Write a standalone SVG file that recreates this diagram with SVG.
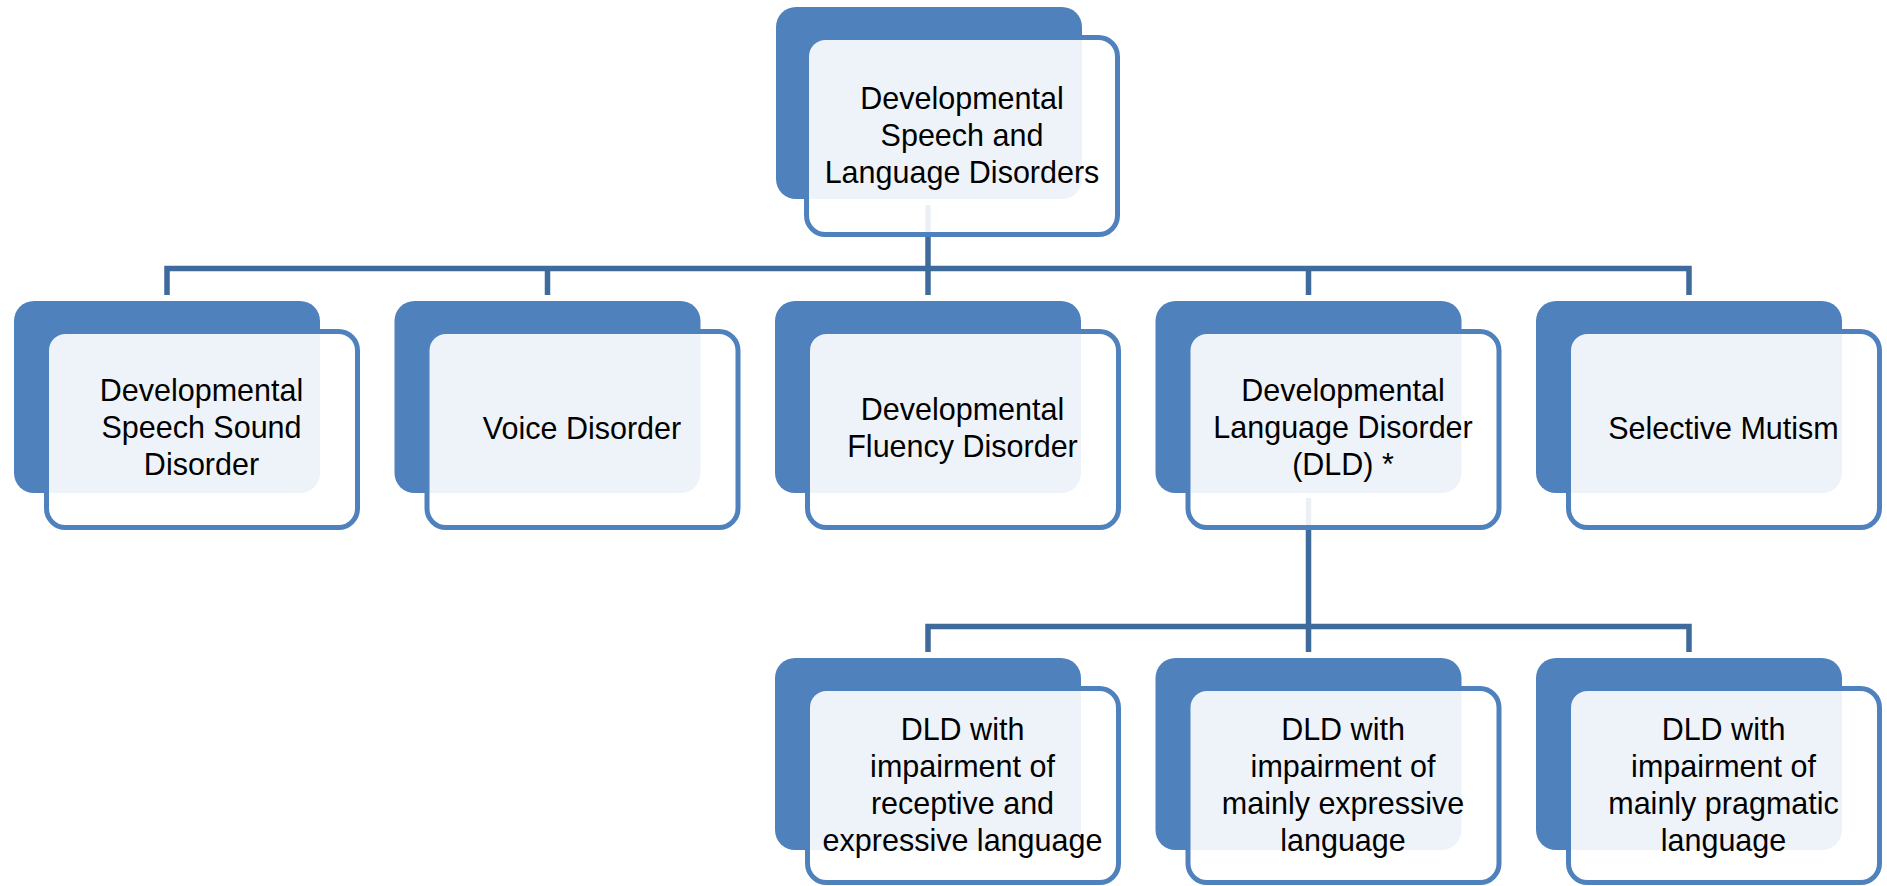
<svg xmlns="http://www.w3.org/2000/svg" width="1887" height="886" viewBox="0 0 1887 886">
<style>
.back{fill:#4F81BD;}
.front{fill:#FFFFFF;fill-opacity:0.9;stroke:#4F81BD;stroke-width:5;}
.lbl{font-family:"Liberation Sans",Arial,sans-serif;font-size:30.5px;fill:#000000;text-anchor:middle;}
.conn{fill:none;stroke:#3F6A9C;stroke-width:5.5;stroke-linejoin:miter;stroke-linecap:butt;}
</style>
<rect width="1887" height="886" fill="#FFFFFF"/>
<g id="connectors">
<path class="conn" d="M928 205 V295"/>
<path class="conn" d="M167 295 V268.5 H1689 V295"/>
<path class="conn" d="M547.5 268.5 V295"/>
<path class="conn" d="M1308.5 268.5 V295"/>
<path class="conn" d="M1308.5 498 V652"/>
<path class="conn" d="M928 652 V626.5 H1689 V652"/>
</g>
<g id="node-root">
<rect class="back" x="776" y="7" width="306" height="192" rx="20"/>
<rect class="front" x="806.5" y="37.5" width="311" height="197" rx="19"/>
<text class="lbl" x="962" y="108.5">Developmental</text>
<text class="lbl" x="962" y="145.5">Speech and</text>
<text class="lbl" x="962" y="182.5">Language Disorders</text>
</g>
<g id="node-speech-sound">
<rect class="back" x="14" y="301" width="306" height="192" rx="20"/>
<rect class="front" x="46.5" y="331.5" width="311" height="196" rx="19"/>
<text class="lbl" x="201.5" y="401">Developmental</text>
<text class="lbl" x="201.5" y="438">Speech Sound</text>
<text class="lbl" x="201.5" y="475">Disorder</text>
</g>
<g id="node-voice">
<rect class="back" x="394.5" y="301" width="306" height="192" rx="20"/>
<rect class="front" x="427" y="331.5" width="311" height="196" rx="19"/>
<text class="lbl" x="582" y="438.5">Voice Disorder</text>
</g>
<g id="node-fluency">
<rect class="back" x="775" y="301" width="306" height="192" rx="20"/>
<rect class="front" x="807.5" y="331.5" width="311" height="196" rx="19"/>
<text class="lbl" x="962.5" y="419.5">Developmental</text>
<text class="lbl" x="962.5" y="456.5">Fluency Disorder</text>
</g>
<g id="node-dld">
<rect class="back" x="1155.5" y="301" width="306" height="192" rx="20"/>
<rect class="front" x="1188" y="331.5" width="311" height="196" rx="19"/>
<text class="lbl" x="1343" y="401">Developmental</text>
<text class="lbl" x="1343" y="438">Language Disorder</text>
<text class="lbl" x="1343" y="475">(DLD) *</text>
</g>
<g id="node-mutism">
<rect class="back" x="1536" y="301" width="306" height="192" rx="20"/>
<rect class="front" x="1568.5" y="331.5" width="311" height="196" rx="19"/>
<text class="lbl" x="1723.5" y="438.5">Selective Mutism</text>
</g>
<g id="node-dld-receptive">
<rect class="back" x="775" y="658" width="306" height="192" rx="20"/>
<rect class="front" x="807.5" y="688.5" width="311" height="194" rx="19"/>
<text class="lbl" x="962.5" y="740">DLD with</text>
<text class="lbl" x="962.5" y="777">impairment of</text>
<text class="lbl" x="962.5" y="814">receptive and</text>
<text class="lbl" x="962.5" y="851">expressive language</text>
</g>
<g id="node-dld-expressive">
<rect class="back" x="1155.5" y="658" width="306" height="192" rx="20"/>
<rect class="front" x="1188" y="688.5" width="311" height="194" rx="19"/>
<text class="lbl" x="1343" y="740">DLD with</text>
<text class="lbl" x="1343" y="777">impairment of</text>
<text class="lbl" x="1343" y="814">mainly expressive</text>
<text class="lbl" x="1343" y="851">language</text>
</g>
<g id="node-dld-pragmatic">
<rect class="back" x="1536" y="658" width="306" height="192" rx="20"/>
<rect class="front" x="1568.5" y="688.5" width="311" height="194" rx="19"/>
<text class="lbl" x="1723.5" y="740">DLD with</text>
<text class="lbl" x="1723.5" y="777">impairment of</text>
<text class="lbl" x="1723.5" y="814">mainly pragmatic</text>
<text class="lbl" x="1723.5" y="851">language</text>
</g>
</svg>
